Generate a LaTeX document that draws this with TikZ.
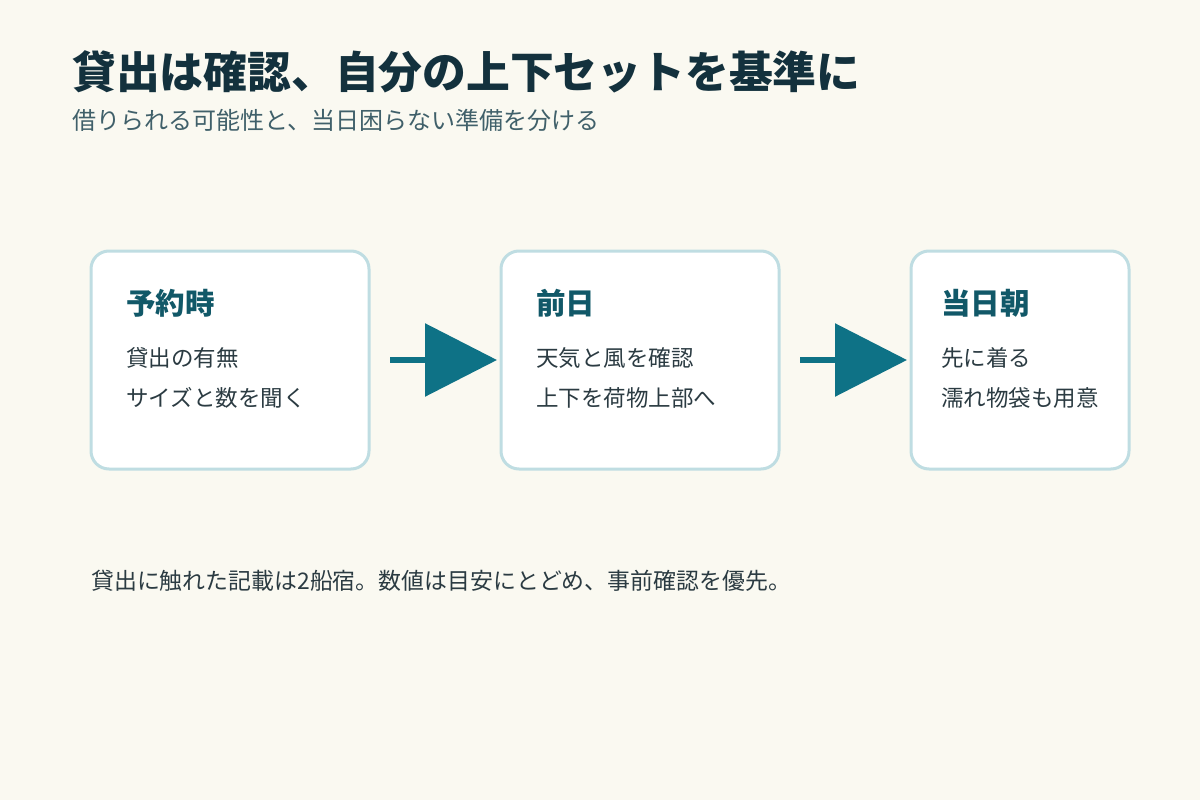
\documentclass[tikz,border=0pt]{standalone}
\usepackage{fontspec}
\setmainfont{Noto Sans CJK JP}
\usetikzlibrary{arrows.meta,positioning}
\definecolor{bgcol}{HTML}{FAF9F1}
\definecolor{titlecol}{HTML}{13313D}
\definecolor{subcol}{HTML}{40606A}
\definecolor{headcol}{HTML}{115868}
\definecolor{bodycol}{HTML}{2B3B42}
\definecolor{arrowcol}{HTML}{0E7286}
\definecolor{edgecol}{HTML}{BFDDE2}
\tikzset{
  stepcard/.style={draw=edgecol, line width=3pt, fill=white, rounded corners=18pt,
    minimum width=278pt, minimum height=218pt, inner sep=0pt, outer sep=0pt},
  cardhead/.style={anchor=west, inner sep=0pt, text=headcol, font=\fontsize{29.5pt}{34pt}\selectfont\bfseries},
  cardtext/.style={anchor=west, inner sep=0pt, text=bodycol, font=\fontsize{22.5pt}{27pt}\selectfont},
  flow/.style={draw=arrowcol, line width=6pt, -{Triangle[length=72pt,width=72pt]}}
}
\begin{document}
\begin{tikzpicture}[x=1pt,y=-1pt]
\fill[bgcol] (0,0) rectangle (1200,800);
\useasboundingbox (0,0) rectangle (1200,800);

\node[anchor=west, inner sep=0pt, text=titlecol, font=\fontsize{43.8pt}{48pt}\selectfont\bfseries]
  (title) at (72,72) {貸出は確認、自分の上下セットを基準に};
\node[anchor=west, inner sep=0pt, text=subcol, font=\fontsize{24pt}{28pt}\selectfont]
  (subtitle) at (72,120) {借りられる可能性と、当日困らない準備を分ける};

\node[stepcard, anchor=north west] (reserve) at (91,251) {};
\node[stepcard, anchor=north west] (eve) at (501,251) {};
\node[stepcard, anchor=north west, minimum width=218pt] (morning) at (911,251) {};

\node[cardhead] (reservehead) at ([shift={(35,52)}]reserve.north west) {予約時};
\node[cardtext] (reservea) at ([shift={(35,107)}]reserve.north west) {貸出の有無};
\node[cardtext] (reserveb) at ([shift={(35,147)}]reserve.north west) {サイズと数を聞く};

\node[cardhead] (evehead) at ([shift={(35,52)}]eve.north west) {前日};
\node[cardtext] (evea) at ([shift={(35,107)}]eve.north west) {天気と風を確認};
\node[cardtext] (eveb) at ([shift={(35,147)}]eve.north west) {上下を荷物上部へ};

\node[cardhead] (morninghead) at ([shift={(30,52)}]morning.north west) {当日朝};
\node[cardtext] (morninga) at ([shift={(30,107)}]morning.north west) {先に着る};
\node[cardtext] (morningb) at ([shift={(30,147)}]morning.north west) {濡れ物袋も用意};

\draw[flow] ([xshift=21pt]reserve.east) -- ([xshift=-4pt]eve.west);
\draw[flow] ([xshift=21pt]eve.east) -- ([xshift=-4pt]morning.west);

\node[anchor=west, inner sep=0pt, text=bodycol, font=\fontsize{22.9pt}{27pt}\selectfont]
  (note) at (91,581) {貸出に触れた記載は2船宿。数値は目安にとどめ、事前確認を優先。};
\end{tikzpicture}
\end{document}
